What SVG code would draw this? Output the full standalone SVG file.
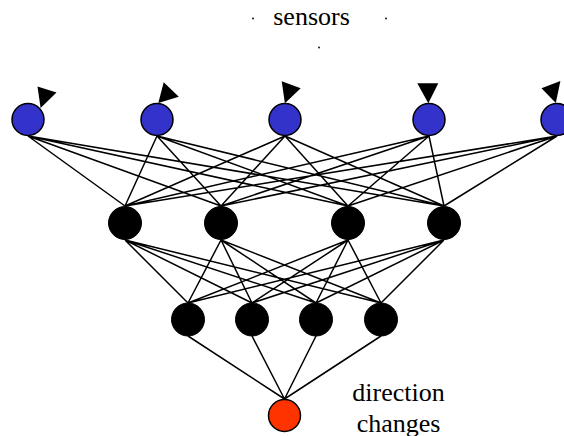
<svg xmlns="http://www.w3.org/2000/svg" width="564" height="436" viewBox="0 0 564 436">
<style>
.in{fill:#3333cc;stroke:#000;stroke-width:1.5}
.hid{fill:#000;stroke:#000;stroke-width:1}
.out{fill:#ff3300;stroke:#000;stroke-width:1.5}
.tri{fill:#000}
.e{stroke:#000;stroke-width:1.5;fill:none}
.t{font-family:"Liberation Serif","Times New Roman",serif;font-size:26px;fill:#000}
</style>
<rect width="564" height="436" fill="#fff"/>
<g id="connectors">
<path class="e" d="M28,136L125,206M28,136L221,206M28,136L348,206M28,136L444,206
M157,136L125,206M157,136L221,206M157,136L348,206M157,136L444,206
M285,136L125,206M285,136L221,206M285,136L348,206M285,136L444,206
M429,136L125,206M429,136L221,206M429,136L348,206M429,136L444,206
M557,136L125,206M557,136L221,206M557,136L348,206M557,136L444,206
M125,240L188,303M125,240L252,303M125,240L316,303M125,240L381,303
M221,240L188,303M221,240L252,303M221,240L316,303M221,240L381,303
M348,240L188,303M348,240L252,303M348,240L316,303M348,240L381,303
M444,240L188,303M444,240L252,303M444,240L316,303M444,240L381,303
M188,336L284.5,399M252,336L284.5,399M316,336L284.5,399M381,336L284.5,399"/>
</g>
<g id="sensor1"><circle class="in" cx="28" cy="119.5" r="16"/><polygon class="tri" points="37.5,86.5 56.5,92.5 40.6,108"/></g>
<g id="sensor2"><circle class="in" cx="157" cy="119.5" r="16"/><polygon class="tri" points="163.7,82.3 178.8,96.7 158.3,103"/></g>
<g id="sensor3"><circle class="in" cx="285" cy="119.5" r="16"/><polygon class="tri" points="281.7,81.3 300.7,88.3 284.9,103.3"/></g>
<g id="sensor4"><circle class="in" cx="429" cy="119.5" r="16"/><polygon class="tri" points="417.3,83.3 438.3,83.3 428.3,103.3"/></g>
<g id="sensor5"><circle class="in" cx="557" cy="119.5" r="16"/><polygon class="tri" points="541.5,88.3 560.4,81 555.8,103"/></g>
<g id="h1a"><circle class="hid" cx="125" cy="223" r="16.5"/></g>
<g id="h1b"><circle class="hid" cx="221" cy="223" r="16.5"/></g>
<g id="h1c"><circle class="hid" cx="348" cy="223" r="16.5"/></g>
<g id="h1d"><circle class="hid" cx="444" cy="223" r="16.5"/></g>
<g id="h2a"><circle class="hid" cx="188" cy="319.5" r="16.5"/></g>
<g id="h2b"><circle class="hid" cx="252" cy="319.5" r="16.5"/></g>
<g id="h2c"><circle class="hid" cx="316" cy="319.5" r="16.5"/></g>
<g id="h2d"><circle class="hid" cx="381" cy="319.5" r="16.5"/></g>
<g id="output"><circle class="out" cx="284.5" cy="415.5" r="16"/></g>
<g id="labels">
<text class="t" x="311.5" y="25" text-anchor="middle">sensors</text>
<circle cx="253" cy="18.5" r="0.9" fill="#000"/>
<circle cx="386" cy="18.5" r="0.9" fill="#000"/>
<circle cx="319" cy="47.5" r="0.9" fill="#000"/>
<text class="t" x="398.5" y="400.5" text-anchor="middle">direction</text>
<text class="t" x="398.5" y="431.5" text-anchor="middle">changes</text>
</g>
</svg>
